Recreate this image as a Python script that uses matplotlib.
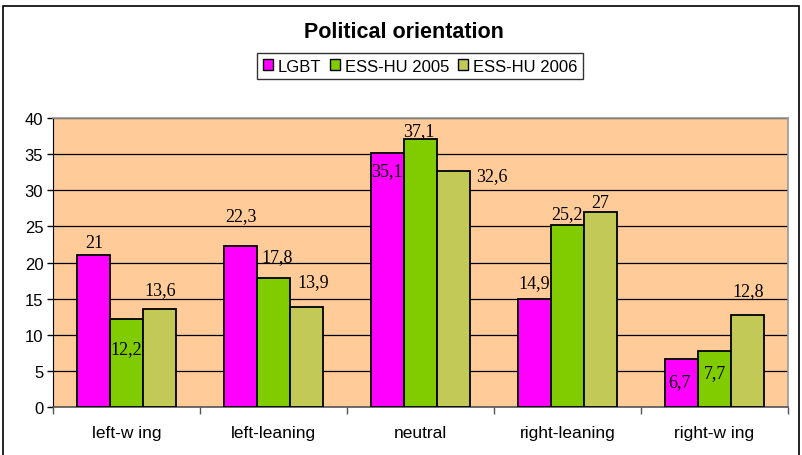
import numpy as np
import matplotlib
matplotlib.use("Agg")
import matplotlib.pyplot as plt
from matplotlib.patches import Rectangle, Patch

# data
categories = ["left-w ing", "left-leaning", "neutral", "right-leaning", "right-w ing"]
series_names = ["LGBT", "ESS-HU 2005", "ESS-HU 2006"]
lgbt = [21, 22.3, 35.1, 14.9, 6.7]
ess2005 = [12.2, 17.8, 37.1, 25.2, 7.7]
ess2006 = [13.6, 13.9, 32.6, 27, 12.8]
label_text = [["21", "22,3", "35,1", "14,9", "6,7"],
              ["12,2", "17,8", "37,1", "25,2", "7,7"],
              ["13,6", "13,9", "32,6", "27", "12,8"]]

colors = ["#FF00FF", "#80CC00", "#C2C956"]
# label offsets (pixels) from top-centre of each bar, hand placed like the original
offsets = [[(1, 13), (0, 30), (-1, -17), (0, 17), (-2, -23)],
           [(0, -30), (4, 22), (-2, 8), (-1, 11), (0, -21)],
           [(1, 19), (7, 25), (38, -4), (0, 9), (1, 24)]]

plt.rcParams['font.family'] = ['Liberation Sans', 'DejaVu Sans']

fig = plt.figure(figsize=(8.02, 4.56), dpi=100)
ax = fig.add_axes([53/802, 1-408/456, 735/802, 289/456])
ax.set_facecolor("#FFCC99")

x = np.arange(len(categories)) + 0.5
w = 0.224
all_series = [lgbt, ess2005, ess2006]
for k, vals in enumerate(all_series):
    bars = ax.bar(x + (k-1)*w, vals, w, color=colors[k], edgecolor="black",
                  linewidth=1.3, zorder=3, label=series_names[k])
    for j, b in enumerate(bars):
        ax.annotate(label_text[k][j], (b.get_x() + b.get_width()/2, b.get_height()),
                    xytext=offsets[k][j], textcoords="offset pixels",
                    ha="center", va="center", fontsize=13,
                    family="Liberation Serif", zorder=4)

ax.set_xlim(0, 5)
ax.set_ylim(0, 40)
ax.set_yticks(np.arange(0, 41, 5))
ax.yaxis.grid(True, color="black", linewidth=0.9, zorder=1)
ax.tick_params(axis="y", labelsize=12, length=4, width=1, direction="out", pad=3)
ax.set_xticks(x)
ax.set_xticklabels(categories, fontsize=12.5)
ax.set_xticks(np.arange(0, 6), minor=True)
ax.tick_params(axis="x", which="major", length=0, pad=13)
ax.tick_params(axis="x", which="minor", length=5, width=1, color="#555555")

ax.spines["left"].set_color("black")
ax.spines["bottom"].set_color("#555555")
ax.spines["bottom"].set_linewidth(1.2)
ax.spines["top"].set_color("#999999")
ax.spines["right"].set_color("#999999")
ax.spines["top"].set_linewidth(1.2)
ax.spines["right"].set_linewidth(1.2)

fig.text(404/802, 1-32/456, "Political orientation", ha="center", va="center",
         fontsize=15.5, fontweight="bold")

handles = [Patch(facecolor=c, edgecolor="black", linewidth=1) for c in colors]
leg = fig.legend(handles, series_names, loc="center", bbox_to_anchor=(420/802, 1-67/456),
                 ncol=3, frameon=True, fancybox=False, fontsize=12,
                 handlelength=0.6, handleheight=0.6, handletextpad=0.3,
                 columnspacing=0.5, borderpad=0.35, borderaxespad=0)
leg.get_frame().set_edgecolor("black")
leg.get_frame().set_linewidth(1)

# outer chart border
fig.patches.append(Rectangle((3/802, -0.02), 796/802, 1.02-7/456, transform=fig.transFigure,
                             fill=False, edgecolor="black", linewidth=1.2))

fig.savefig("out.png", dpi=100)
